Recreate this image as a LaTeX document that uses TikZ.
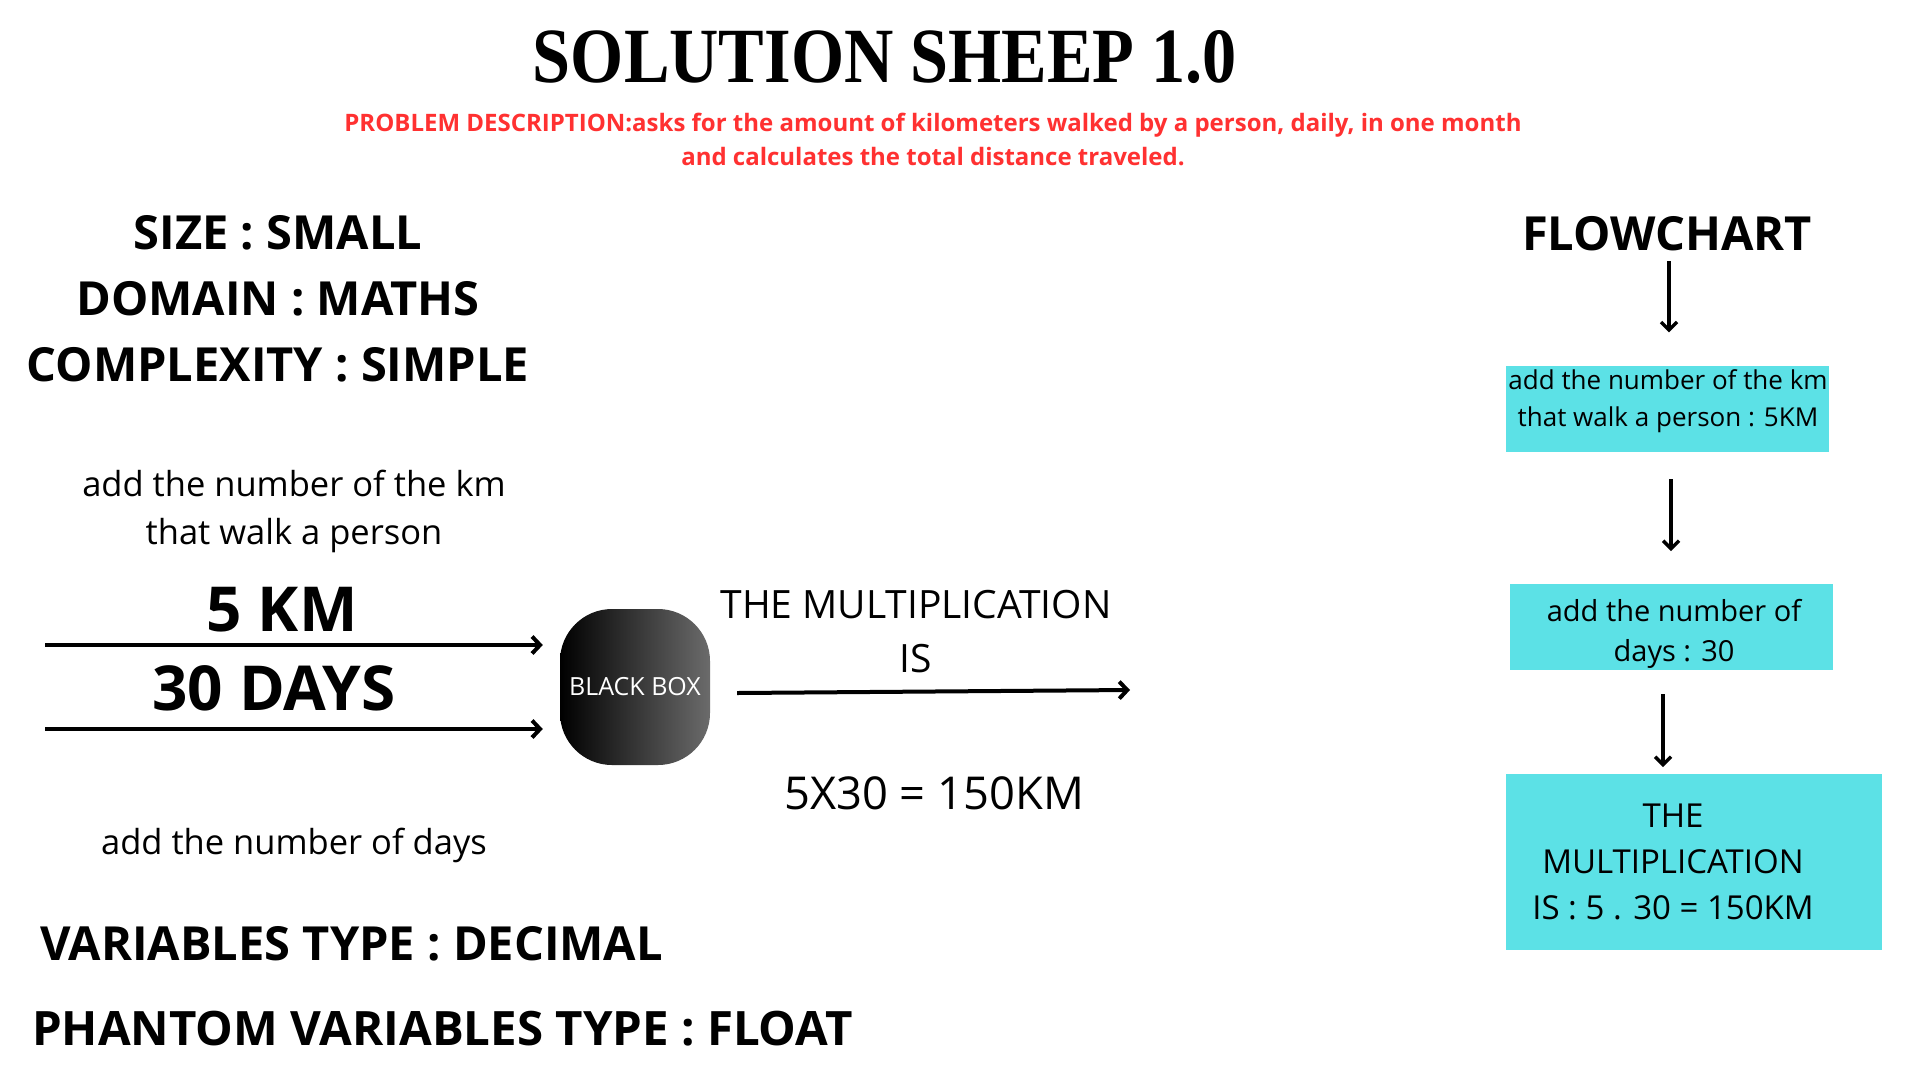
\documentclass[tikz,border=0pt]{standalone}
\usepackage{fontspec}
\setmainfont{Open Sans}
\newfontfamily\titlefont{Liberation Serif}
\usetikzlibrary{arrows.meta}
\definecolor{cyanbox}{HTML}{5CE1E6}
\definecolor{redtxt}{HTML}{FF3131}
\definecolor{bbgray}{HTML}{6B6B6B}
\newcommand\fsz[2]{\fontsize{#1}{#2}\selectfont}
\begin{document}
\begin{tikzpicture}[x=1pt,y=-1pt,
  txt/.style={inner sep=0pt, align=center},
  arr/.style={-{Straight Barb[length=8pt,width=17pt]}, line width=4pt},
  farr/.style={-{Straight Barb[length=8pt,width=16pt]}, line width=3.5pt},
  cbox/.style={fill=cyanbox, draw=none, inner sep=0pt}]
\useasboundingbox (0,0) rectangle (1920,1080);
\fill[white] (0,0) rectangle (1920,1080);

% title and description
\node[txt, font=\titlefont\bfseries] (title) at (885,57) {\resizebox{704pt}{52pt}{SOLUTION SHEEP 1.0}};
\node[txt, text=redtxt, font=\bfseries\fsz{24}{34}] (desc) at (933,139)
  {PROBLEM DESCRIPTION:asks for the amount of kilometers walked by a person, daily, in one month\\and calculates the total distance traveled.};

% left column
\node[txt, font=\bfseries\fsz{47}{56}] (size) at (278,233) {SIZE : SMALL};
\node[txt, font=\bfseries\fsz{47}{56}] (domain) at (278,299) {DOMAIN : MATHS};
\node[txt, font=\bfseries\fsz{47}{56}] (cplx) at (278,365) {COMPLEXITY : SIMPLE};
\node[txt, font=\fsz{34.5}{48}] (addkm) at (294,511) {add the number of the km\\that walk a person};
\node[txt, font=\bfseries\fsz{62}{70}] (km) at (282,610) {5 KM};
\node[txt, font=\bfseries\fsz{62}{70}] (days) at (274,688) {30 DAYS};
\node[txt, font=\fsz{34.5}{48}] (adddays) at (294,845) {add the number of days};
\node[txt, anchor=west, font=\bfseries\fsz{47}{56}] (vt) at (40,944) {VARIABLES TYPE : DECIMAL};
\node[txt, anchor=west, font=\bfseries\fsz{47.4}{56}] (pvt) at (32,1029) {PHANTOM VARIABLES TYPE : FLOAT};

% black box
\node[rounded corners=52pt, left color=black, right color=bbgray, minimum width=150pt,
      minimum height=156pt, inner sep=0pt, text=white, font=\fsz{25}{30}] (bb) at (635,687) {BLACK BOX};
\coordinate (in1) at (45,645);
\coordinate (in2) at (45,729);
\draw[arr, shorten >=17pt] (in1) -- (in1 -| bb.west);
\draw[arr, shorten >=17pt] (in2) -- (in2 -| bb.west);
\coordinate (o1) at (1130,690);
\draw[arr] (bb.east) ++(27,6) -- (o1);
\node[txt, font=\fsz{39}{54}] (mult) at (916,632) {THE MULTIPLICATION\\IS};
\node[txt, font=\fsz{45.3}{52}] (eq) at (934,793) {5X30 = 150KM};

% flowchart
\node[txt, font=\bfseries\fsz{47}{56}] (fc) at (1667,234) {FLOWCHART};
\node[cbox, minimum width=323pt, minimum height=86pt] (b1) at (1667.5,409) {};
\node[txt, font=\fsz{26}{37}] (t1) at (1668,401) {add the number of the km\\that walk a person : 5KM};
\node[cbox, minimum width=323pt, minimum height=86pt] (b2) at (1671.5,627) {};
\node[txt, font=\fsz{29}{40}] (t2) at (1674,634) {add the number of\\days : 30};
\node[cbox, minimum width=376pt, minimum height=176pt] (b3) at (1694,862) {};
\node[txt, font=\fsz{33}{46}] (t3) at (1673,862) {THE\\MULTIPLICATION\\IS : 5 . 30 = 150KM};

\draw[farr] (fc.south) ++(2,10) -- ++(0,71);
\draw[farr] (b1.south) ++(3.5,27) -- ++(0,72);
\draw[farr] (b2.south) ++(-8.5,24) -- ++(0,73);
\end{tikzpicture}
\end{document}
